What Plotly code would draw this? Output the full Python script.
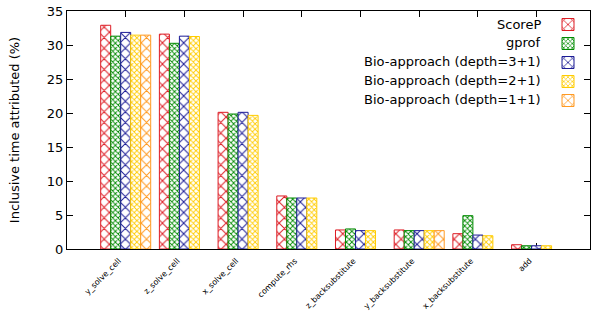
import plotly.graph_objects as go

categories = ["y_solve_cell", "z_solve_cell", "x_solve_cell", "compute_rhs",
              "z_backsubstitute", "y_backsubstitute", "x_backsubstitute", "add"]

series_names = ["ScoreP", "gprof", "Bio-approach (depth=3+1)",
                "Bio-approach (depth=2+1)", "Bio-approach (depth=1+1)"]

scorep = [32.9, 31.6, 20.1, 7.8, 2.8, 2.8, 2.25, 0.63]
gprof = [31.3, 30.25, 19.85, 7.5, 2.95, 2.7, 4.9, 0.48]
bio3 = [31.85, 31.3, 20.1, 7.5, 2.7, 2.7, 2.05, 0.48]
bio2 = [31.45, 31.25, 19.65, 7.5, 2.7, 2.7, 1.95, 0.48]
bio1 = [31.45, None, None, None, None, 2.7, None, None]

values = [scorep, gprof, bio3, bio2, bio1]
colors = ["#dd1c24", "#008a00", "#1c1c96", "#ffcc00", "#ff9a22"]
pat_sizes = [7.5, 3.8, 7.5, 3.8, 7.5]
pat_solid = [0.25, 0.42, 0.25, 0.42, 0.25]

W, H = 593, 320
ML, MR, MT, MB = 67, 3, 11, 71
PW = W - ML - MR
PH = H - MT - MB

fig = go.Figure()
for name, vals, col, ps, so in zip(series_names, values, colors, pat_sizes, pat_solid):
    fig.add_trace(go.Bar(
        x=categories, y=vals, name="",
        marker=dict(color="white", line=dict(color=col, width=1),
                    pattern=dict(shape="x", fgcolor=col, bgcolor="white",
                                 size=ps, solidity=so, fillmode="replace")),
        hovertemplate=name + "<br>%{x}: %{y}<extra></extra>",
    ))

font = "DejaVu Sans"
fig.update_layout(
    width=W, height=H,
    margin=dict(l=ML, r=MR, t=MT, b=MB, autoexpand=False),
    paper_bgcolor="white", plot_bgcolor="white",
    barmode="group", bargap=0.148, bargroupgap=0,
    font=dict(family=font, size=13, color="black"),
    showlegend=True,
    legend=dict(x=(548 - ML) / PW, xanchor="left", y=1 - (10 - MT) / PH, yanchor="top",
                bgcolor="rgba(0,0,0,0)", font=dict(size=1, color="rgba(0,0,0,0)"),
                tracegroupgap=0, itemwidth=30),
    xaxis=dict(type="category", range=[-1.0, 7.91], showgrid=False, automargin=False,
               showline=True, linecolor="black", linewidth=1, mirror="ticks",
               ticks="inside", ticklen=6, tickcolor="black", tickwidth=1,
               tickangle=-45, tickfont=dict(family=font, size=8, color="black"),
               ticklabelshift=-7, ticklabelstandoff=3,
               layer="below traces"),
    yaxis=dict(range=[0, 35], dtick=5, showgrid=False, zeroline=False, automargin=False,
               showline=True, linecolor="black", linewidth=1, mirror="ticks",
               ticks="inside", ticklen=6, tickcolor="black", tickwidth=1,
               tickfont=dict(family=font, size=13, color="black"),
               title=dict(text="Inclusive time attributed (%)",
                          font=dict(family=font, size=13), standoff=24)),
)

row_y = [24, 42.75, 61.5, 80.25, 99]
for name, yy in zip(series_names, row_y):
    fig.add_annotation(text=name, xref="paper", yref="paper",
                       x=(543 - ML) / PW, y=1 - (yy - MT) / PH,
                       xanchor="right", yanchor="middle", showarrow=False,
                       font=dict(family=font, size=13, color="black"))

fig.write_html("out.html", config={"displayModeBar": False},
               post_script="document.body.style.margin='0';")
